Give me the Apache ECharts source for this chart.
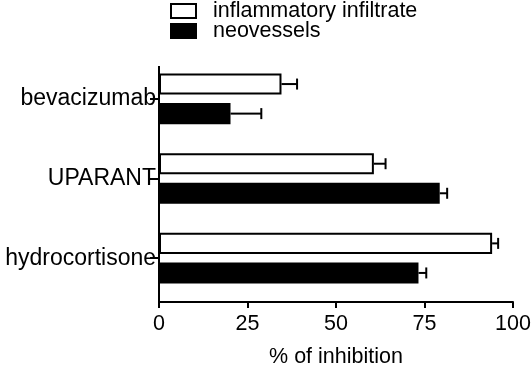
<!DOCTYPE html>
<html>
<head>
<meta charset="utf-8">
<script src="https://cdn.jsdelivr.net/npm/echarts@6/dist/echarts.min.js"></script>
<style>
  html, body { margin: 0; padding: 0; background: #fff; }
  #chart { width: 532px; height: 366px; }
</style>
</head>
<body>
<div id="chart"></div>
<script>
const categories = ["bevacizumab", "UPARANT", "hydrocortisone"];
const infiltrate = [34.6, 60.7, 94.1];
const infiltrateErr = [4.4, 3.3, 1.7];
const neovessels = [20.2, 79.3, 73.3];
const neovesselsErr = [8.7, 2.1, 2.2];
const xTicks = [0, 25, 50, 75, 100];

const FONT = "Liberation Sans";
const BAR_W = 0.265;  // fraction of category band
const BAR_GAP = 0.4;  // fraction of bar width

// error whisker: from bar end to bar end + err, with a cap
function errorBars(values, errs, side) {
  return {
    type: "custom",
    silent: true,
    z: 5,
    data: values.map((v, i) => [v, i, errs[i]]),
    renderItem: (params, api) => {
      const v = api.value(0);
      const e = api.value(2);
      const idx = api.value(1);
      const band = api.size([0, 1])[1];
      const bw = band * BAR_W;
      const off = side * (bw + bw * BAR_GAP) / 2;
      const p0 = api.coord([v, idx]);
      const p1 = api.coord([v + e, idx]);
      const y = p0[1] + off;
      const cap = 5.5;
      const style = { stroke: "#000", lineWidth: 2, fill: null };
      return {
        type: "group",
        children: [
          { type: "line", shape: { x1: p0[0], y1: y, x2: p1[0], y2: y }, style: style },
          { type: "line", shape: { x1: p1[0], y1: y - cap, x2: p1[0], y2: y + cap }, style: style },
        ],
      };
    },
  };
}

const chart = echarts.init(document.getElementById("chart"));

const option = {
  animation: false,
  textStyle: { fontFamily: FONT },
  legend: {
    orient: "vertical",
    left: 170,
    top: 0,
    padding: 0,
    itemWidth: 25,
    itemHeight: 14,
    itemGap: -2,
    textStyle: { fontFamily: FONT, fontSize: 21.5, color: "#000", padding: [0, 0, 0, 12] },
    data: [
      { name: "inflammatory infiltrate", icon: "rect", itemStyle: { color: "#fff", borderColor: "#000", borderWidth: 2 } },
      { name: "neovessels", icon: "rect", itemStyle: { color: "#000", borderColor: "#000", borderWidth: 2 } },
    ],
  },
  grid: { left: 159, right: 19, top: 59, bottom: 68, outerBoundsMode: "none" },
  // y axis line runs a little past the category range, as in the original
  graphic: [
    { type: "line", z: 10, shape: { x1: 159, y1: 66, x2: 159, y2: 302 }, style: { stroke: "#000", lineWidth: 2 } },
  ],
  xAxis: {
    type: "value",
    min: 0,
    max: 100,
    interval: 25,
    offset: 4,
    name: "% of inhibition",
    nameLocation: "middle",
    nameGap: 44,
    nameTextStyle: { fontFamily: FONT, fontSize: 21.5, color: "#000" },
    axisLine: { show: true, lineStyle: { color: "#000", width: 2 } },
    axisTick: { show: true, length: 6, lineStyle: { color: "#000", width: 2 } },
    axisLabel: { fontFamily: FONT, fontSize: 21.5, color: "#000", margin: 11 },
    splitLine: { show: false },
  },
  yAxis: {
    type: "category",
    inverse: true,
    data: categories,
    axisLine: { show: false },
    axisTick: { show: true, alignWithLabel: true, length: 9, lineStyle: { color: "#000", width: 2 } },
    axisLabel: { fontFamily: FONT, fontSize: 23, color: "#000", margin: 3 },
  },
  series: [
    {
      name: "inflammatory infiltrate",
      type: "bar",
      data: infiltrate,
      barWidth: (BAR_W * 100) + "%",
      barGap: (BAR_GAP * 100) + "%",
      itemStyle: { color: "#fff", borderColor: "#000", borderWidth: 2 },
    },
    {
      name: "neovessels",
      type: "bar",
      data: neovessels,
      barWidth: (BAR_W * 100) + "%",
      barGap: (BAR_GAP * 100) + "%",
      itemStyle: { color: "#000", borderColor: "#000", borderWidth: 2 },
    },
    errorBars(infiltrate, infiltrateErr, -1),
    errorBars(neovessels, neovesselsErr, 1),
  ],
};

chart.setOption(option);
</script>
</body>
</html>
